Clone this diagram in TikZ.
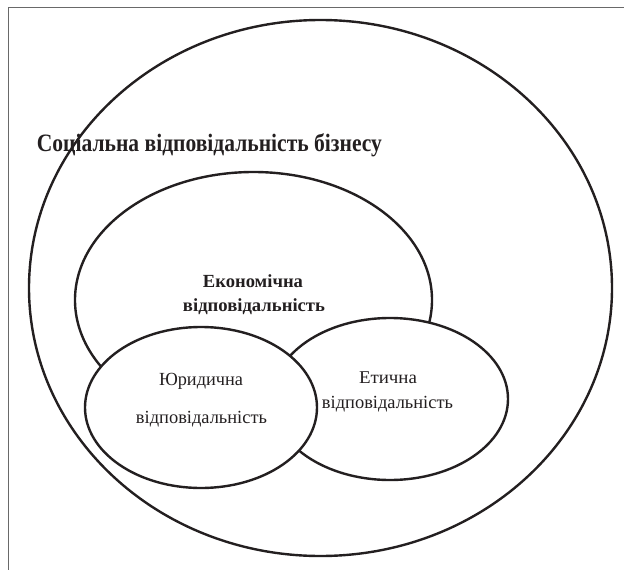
\documentclass[tikz,border=0pt]{standalone}
\usepackage{fontspec}
\setmainfont{Liberation Serif}
\usepackage{graphicx}
\definecolor{ink}{RGB}{35,31,32}
\definecolor{framegray}{RGB}{105,105,105}
% one line of text at a given size, stretched horizontally to a given width
\newcommand{\fitline}[3]{\resizebox{#1}{\height}{\fontsize{#2}{#2}\selectfont #3}}

\begin{document}
\begin{tikzpicture}[x=1pt,y=-1pt,
  ring/.style={draw=ink,line width=2.4pt},
  area/.style={ring,fill=white},
  lbl/.style={inner sep=0pt,anchor=base,text=ink}]
\useasboundingbox (0,0) rectangle (624,570);

% page frame
\draw[framegray,line width=0.9pt] (8,575) -- (8,7.5) -- (630,7.5);

% outer label, crossed by the outer ellipse
\node[lbl,anchor=base west] (title) at (36.7,151.7)
  {\fitline{345pt}{25}{\bfseries Соціальна відповідальність бізнесу}};

% outer ellipse: social responsibility of business
\draw[ring] (320.5,288) ellipse [x radius=291.5pt, y radius=268pt];

% economic, ethical, legal responsibility (later ones cover earlier ones)
\draw[area] (253.5,300) ellipse [x radius=178.5pt, y radius=128pt];
\draw[area] (390,399) ellipse [x radius=118pt, y radius=81pt];
\draw[area] (201,407.5) ellipse [x radius=116pt, y radius=80.5pt];

% labels
\node[lbl] (econ1) at (253,287.3) {\fitline{100pt}{18.5}{\bfseries Економічна}};
\node[lbl] (econ2) at (254,311.7) {\fitline{142pt}{18.5}{\bfseries відповідальність}};
\node[lbl] (legal1) at (201,385) {\fitline{84pt}{18.5}{Юридична}};
\node[lbl] (legal2) at (201.5,423) {\fitline{131pt}{18.5}{відповідальність}};
\node[lbl] (eth1) at (388,383) {\fitline{58pt}{18}{Етична}};
\node[lbl] (eth2) at (387.5,408) {\fitline{131pt}{18.5}{відповідальність}};
\end{tikzpicture}
\end{document}
